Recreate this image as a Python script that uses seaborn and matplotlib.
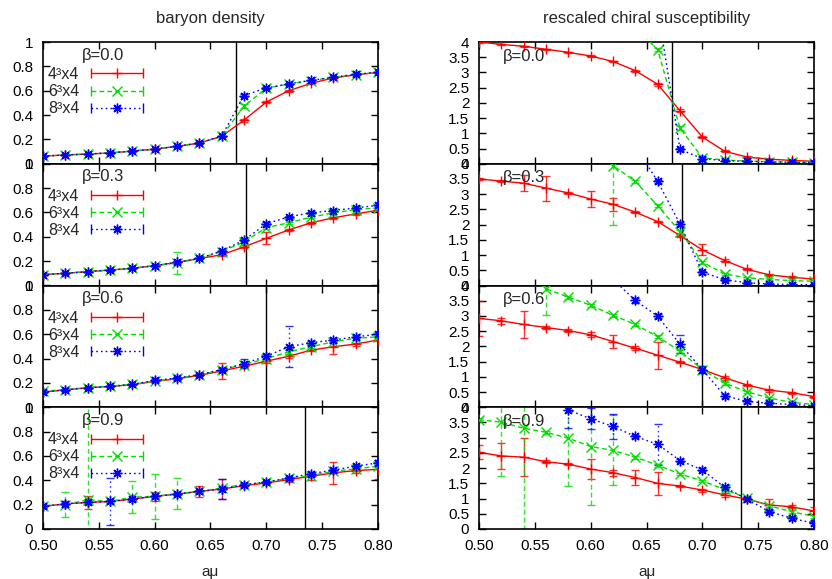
import numpy as np
import pandas as pd
import matplotlib
matplotlib.use("Agg")
import matplotlib.pyplot as plt
import seaborn as sns
from matplotlib.lines import Line2D
from matplotlib.legend_handler import HandlerLine2D, HandlerTuple
from matplotlib.ticker import FuncFormatter, MultipleLocator

# ---------------- data ----------------
amu = [0.50, 0.52, 0.54, 0.56, 0.58, 0.60, 0.62, 0.64,
       0.66, 0.68, 0.70, 0.72, 0.74, 0.76, 0.78, 0.80]
betas = ["0.0", "0.3", "0.6", "0.9"]
crit_amu = [0.673, 0.682, 0.700, 0.735]
volumes = ["4\u00b3x4", "6\u00b3x4", "8\u00b3x4"]

# baryon density, beta = 0.0
bd0_4 = [0.063, 0.072, 0.080, 0.088, 0.105, 0.120, 0.143, 0.170, 0.226, 0.358, 0.507, 0.600, 0.660, 0.705, 0.730, 0.750]
bd0_6 = [0.063, 0.072, 0.080, 0.088, 0.105, 0.120, 0.143, 0.170, 0.226, 0.474, 0.620, 0.655, 0.683, 0.710, 0.733, 0.750]
bd0_8 = [0.063, 0.072, 0.080, 0.090, 0.103, 0.120, 0.143, 0.170, 0.226, 0.560, 0.623, 0.655, 0.686, 0.710, 0.735, 0.752]
bd0_4e = [0.004, 0.004, 0.004, 0.004, 0.004, 0.004, 0.004, 0.005, 0.006, 0.012, 0.010, 0.008, 0.006, 0.005, 0.005, 0.005]
bd0_6e = [0.004, 0.004, 0.004, 0.004, 0.004, 0.004, 0.004, 0.005, 0.006, 0.015, 0.008, 0.006, 0.005, 0.005, 0.005, 0.005]
bd0_8e = [0.004, 0.004, 0.004, 0.004, 0.004, 0.004, 0.004, 0.005, 0.006, 0.015, 0.008, 0.006, 0.005, 0.005, 0.005, 0.005]
# baryon density, beta = 0.3
bd3_4 = [0.090, 0.100, 0.114, 0.127, 0.141, 0.163, 0.190, 0.222, 0.252, 0.317, 0.388, 0.456, 0.515, 0.556, 0.588, 0.618]
bd3_6 = [0.090, 0.100, 0.114, 0.127, 0.141, 0.163, 0.185, 0.222, 0.279, 0.358, 0.475, 0.515, 0.561, 0.597, 0.624, 0.637]
bd3_8 = [0.090, 0.100, 0.114, 0.127, 0.141, 0.163, 0.190, 0.222, 0.285, 0.372, 0.507, 0.564, 0.597, 0.616, 0.637, 0.659]
bd3_4e = [0.004, 0.004, 0.004, 0.004, 0.004, 0.005, 0.005, 0.006, 0.008, 0.012, 0.050, 0.012, 0.008, 0.006, 0.006, 0.006]
bd3_6e = [0.004, 0.004, 0.004, 0.004, 0.004, 0.005, 0.090, 0.006, 0.008, 0.010, 0.012, 0.008, 0.006, 0.006, 0.006, 0.006]
bd3_8e = [0.004, 0.004, 0.004, 0.004, 0.004, 0.005, 0.010, 0.006, 0.008, 0.010, 0.012, 0.008, 0.006, 0.006, 0.006, 0.006]
# baryon density, beta = 0.6
bd6_4 = [0.124, 0.143, 0.160, 0.171, 0.185, 0.212, 0.234, 0.262, 0.298, 0.337, 0.378, 0.419, 0.469, 0.497, 0.519, 0.552]
bd6_6 = [0.132, 0.145, 0.162, 0.174, 0.188, 0.215, 0.237, 0.265, 0.309, 0.350, 0.400, 0.455, 0.497, 0.538, 0.566, 0.579]
bd6_8 = [0.124, 0.143, 0.160, 0.171, 0.188, 0.220, 0.240, 0.268, 0.309, 0.359, 0.419, 0.497, 0.530, 0.552, 0.579, 0.599]
bd6_4e = [0.008, 0.006, 0.006, 0.006, 0.006, 0.008, 0.008, 0.008, 0.065, 0.012, 0.015, 0.015, 0.010, 0.058, 0.012, 0.010]
bd6_6e = [0.008, 0.006, 0.006, 0.006, 0.006, 0.008, 0.008, 0.008, 0.012, 0.012, 0.020, 0.015, 0.012, 0.012, 0.012, 0.010]
bd6_8e = [0.008, 0.006, 0.006, 0.006, 0.006, 0.008, 0.008, 0.008, 0.012, 0.040, 0.020, 0.170, 0.015, 0.012, 0.012, 0.012]
# baryon density, beta = 0.9
bd9_4 = [0.185, 0.207, 0.218, 0.226, 0.246, 0.268, 0.287, 0.309, 0.328, 0.356, 0.378, 0.406, 0.433, 0.461, 0.480, 0.490]
bd9_6 = [0.190, 0.200, 0.240, 0.226, 0.262, 0.268, 0.290, 0.309, 0.337, 0.364, 0.383, 0.419, 0.439, 0.474, 0.494, 0.516]
bd9_8 = [0.185, 0.207, 0.218, 0.226, 0.246, 0.268, 0.287, 0.309, 0.328, 0.364, 0.386, 0.419, 0.455, 0.483, 0.516, 0.543]
bd9_4e = [0.010, 0.025, 0.055, 0.010, 0.010, 0.040, 0.010, 0.045, 0.080, 0.010, 0.010, 0.020, 0.030, 0.090, 0.020, 0.080]
bd9_6e = [0.010, 0.100, 0.900, 0.010, 0.130, 0.185, 0.125, 0.010, 0.010, 0.010, 0.010, 0.010, 0.010, 0.010, 0.010, 0.010]
bd9_8e = [0.010, 0.010, 0.010, 0.190, 0.010, 0.010, 0.010, 0.010, 0.080, 0.010, 0.010, 0.010, 0.010, 0.010, 0.010, 0.020]

# rescaled chiral susceptibility, beta = 0.0
cs0_4 = [4.00, 3.92, 3.86, 3.76, 3.66, 3.54, 3.36, 3.06, 2.61, 1.74, 0.88, 0.41, 0.22, 0.15, 0.11, 0.08]
cs0_6 = [9.00, 8.60, 8.20, 7.70, 7.10, 6.40, 5.50, 4.46, 3.75, 1.17, 0.20, 0.12, 0.09, 0.07, 0.05, 0.04]
cs0_8 = [12.0, 11.6, 11.1, 10.5, 9.80, 8.90, 7.80, 6.50, 5.10, 0.47, 0.17, 0.10, 0.08, 0.06, 0.05, 0.04]
cs0_4e = [0.02, 0.02, 0.02, 0.02, 0.02, 0.02, 0.02, 0.03, 0.04, 0.05, 0.04, 0.03, 0.02, 0.02, 0.02, 0.02]
cs0_6e = [0.05, 0.05, 0.05, 0.05, 0.05, 0.05, 0.05, 0.05, 0.06, 0.06, 0.04, 0.02, 0.02, 0.02, 0.02, 0.02]
cs0_8e = [0.05, 0.05, 0.05, 0.05, 0.05, 0.05, 0.05, 0.05, 0.06, 0.05, 0.04, 0.02, 0.02, 0.02, 0.02, 0.02]
# rescaled chiral susceptibility, beta = 0.3
cs3_4 = [3.50, 3.43, 3.36, 3.20, 3.04, 2.84, 2.67, 2.41, 2.10, 1.64, 1.17, 0.82, 0.53, 0.35, 0.27, 0.21]
cs3_6 = [9.00, 8.50, 8.00, 7.40, 6.80, 6.00, 3.94, 3.42, 2.62, 1.77, 0.77, 0.38, 0.25, 0.20, 0.16, 0.14]
cs3_8 = [12.0, 11.0, 10.0, 9.00, 8.00, 7.00, 6.00, 4.58, 3.42, 2.02, 0.44, 0.19, 0.09, 0.05, 0.03, 0.03]
cs3_4e = [0.02, 0.03, 0.27, 0.41, 0.03, 0.25, 0.21, 0.03, 0.03, 0.05, 0.18, 0.04, 0.03, 0.03, 0.03, 0.03]
cs3_6e = [0.05, 0.05, 0.05, 0.05, 0.05, 0.05, 1.94, 0.05, 0.05, 0.05, 0.05, 0.04, 0.03, 0.03, 0.03, 0.03]
cs3_8e = [0.05, 0.05, 0.05, 0.05, 0.05, 0.05, 0.05, 0.05, 0.05, 0.06, 0.05, 0.03, 0.03, 0.03, 0.03, 0.03]
# rescaled chiral susceptibility, beta = 0.6
cs6_4 = [2.92, 2.84, 2.72, 2.62, 2.52, 2.38, 2.16, 1.94, 1.71, 1.48, 1.24, 0.97, 0.73, 0.56, 0.48, 0.35]
cs6_6 = [7.00, 6.40, 5.50, 3.89, 3.62, 3.35, 3.02, 2.72, 2.32, 1.84, 1.24, 0.79, 0.51, 0.30, 0.16, 0.09]
cs6_8 = [9.00, 8.00, 7.00, 6.00, 5.00, 4.70, 4.20, 3.51, 2.99, 2.07, 1.24, 0.38, 0.19, 0.13, 0.09, 0.05]
cs6_4e = [0.57, 0.10, 0.44, 0.04, 0.04, 0.08, 0.20, 0.06, 0.45, 0.03, 0.03, 0.06, 0.04, 0.05, 0.03, 0.03]
cs6_6e = [0.05, 0.05, 0.05, 0.87, 0.05, 0.05, 0.05, 0.05, 0.05, 0.05, 0.10, 0.05, 0.04, 0.03, 0.03, 0.03]
cs6_8e = [0.05, 0.05, 0.05, 0.05, 0.05, 0.05, 0.05, 0.08, 0.06, 0.30, 0.10, 0.06, 0.04, 0.03, 0.03, 0.03]
# rescaled chiral susceptibility, beta = 0.9
cs9_4 = [2.52, 2.40, 2.36, 2.21, 2.13, 1.97, 1.85, 1.69, 1.50, 1.41, 1.28, 1.12, 0.98, 0.79, 0.73, 0.59]
cs9_6 = [3.59, 3.51, 3.31, 3.18, 2.98, 2.71, 2.58, 2.36, 2.10, 1.81, 1.58, 1.30, 1.01, 0.76, 0.57, 0.41]
cs9_8 = [6.00, 5.50, 5.00, 4.50, 3.91, 3.62, 3.37, 3.04, 2.78, 2.25, 1.94, 1.37, 0.98, 0.57, 0.35, 0.19]
cs9_4e = [0.23, 0.44, 0.63, 0.05, 0.04, 0.33, 0.10, 0.26, 0.38, 0.04, 0.05, 0.06, 0.04, 0.20, 0.05, 0.13]
cs9_6e = [0.05, 1.77, 3.60, 0.05, 1.57, 1.92, 1.15, 0.05, 0.05, 0.04, 0.04, 0.04, 0.04, 0.04, 0.04, 0.04]
cs9_8e = [0.05, 0.05, 0.05, 0.05, 0.60, 0.35, 0.40, 0.05, 0.67, 0.05, 0.05, 0.05, 0.05, 0.05, 0.05, 0.05]

baryon = [(bd0_4, bd0_6, bd0_8), (bd3_4, bd3_6, bd3_8), (bd6_4, bd6_6, bd6_8), (bd9_4, bd9_6, bd9_8)]
baryon_err = [(bd0_4e, bd0_6e, bd0_8e), (bd3_4e, bd3_6e, bd3_8e), (bd6_4e, bd6_6e, bd6_8e), (bd9_4e, bd9_6e, bd9_8e)]
chiral = [(cs0_4, cs0_6, cs0_8), (cs3_4, cs3_6, cs3_8), (cs6_4, cs6_6, cs6_8), (cs9_4, cs9_6, cs9_8)]
chiral_err = [(cs0_4e, cs0_6e, cs0_8e), (cs3_4e, cs3_6e, cs3_8e), (cs6_4e, cs6_6e, cs6_8e), (cs9_4e, cs9_6e, cs9_8e)]

# ---------------- style ----------------
sns.set_theme(style="ticks")
plt.rcParams["font.family"] = ["Liberation Sans", "DejaVu Sans"]
plt.rcParams["axes.linewidth"] = 1.2
plt.rcParams["axes.edgecolor"] = "black"

colors = ["#ff0000", "#00dd00", "#0000ff"]
lstyles = ["-", (0, (3.5, 2.2)), (0, (1.2, 2.2))]
markers = ["+", "x", (8, 2, 0)]

fig, axes = plt.subplots(4, 2, figsize=(8.32, 5.79), dpi=100,
                         gridspec_kw=dict(hspace=0, wspace=0.3015))
fig.subplots_adjust(left=43/832, right=814/832, bottom=1-529/579, top=1-42/579)

for col, (dataset, errset, ymax, ystep) in enumerate(
        [(baryon, baryon_err, 1.0, 0.2), (chiral, chiral_err, 4.0, 0.5)]):
    for row in range(4):
        ax = axes[row, col]
        ax.axvline(crit_amu[row], color="black", lw=1.0, zorder=1)
        for k in range(3):
            vals = dataset[row][k]
            errs = errset[row][k]
            df = pd.DataFrame({"amu": amu, "val": vals})
            sns.lineplot(data=df, x="amu", y="val", ax=ax, color=colors[k],
                         linestyle=lstyles[k], lw=1.0, marker=markers[k],
                         markersize=7, markeredgecolor=colors[k],
                         markeredgewidth=1.0, legend=False, zorder=3)
            eb = ax.errorbar(amu, vals, yerr=errs, fmt="none", ecolor=colors[k],
                             elinewidth=1.0, capsize=3, capthick=1.0, zorder=2,
                             alpha=0.8)
            eb[2][0].set_linestyle(lstyles[k])
        ax.set_xlim(0.5, 0.8)
        ax.set_ylim(0, ymax)
        ax.xaxis.set_major_locator(MultipleLocator(0.05))
        ax.yaxis.set_major_locator(MultipleLocator(ystep))
        ax.xaxis.set_major_formatter(FuncFormatter(lambda v, p: f"{v:.2f}"))
        ax.yaxis.set_major_formatter(FuncFormatter(lambda v, p: f"{v:g}"))
        ax.tick_params(direction="in", length=5, width=1, top=True, right=True,
                       labelsize=11, pad=7, colors="black")
        ax.set_ylabel("")
        if row < 3:
            ax.tick_params(labelbottom=False)
            ax.set_xlabel("")
        else:
            ax.set_xlabel("a\u03bc", fontsize=11, labelpad=9)
        for s in ax.spines.values():
            s.set_linewidth(1.2)
        if col == 0:
            ax.text(0.116, 0.893, f"\u03b2={betas[row]}", transform=ax.transAxes,
                    ha="left", va="center", fontsize=12)
            handles = []
            hmap = {}
            for k in range(3):
                cap = Line2D([], [], color=colors[k], ls=lstyles[k], lw=1.0,
                             marker="|", markersize=7, markeredgewidth=1.0)
                mk = Line2D([], [], color=colors[k], ls="none", marker=markers[k],
                            markersize=7, markeredgewidth=1.0)
                hmap[cap] = HandlerLine2D(numpoints=2, marker_pad=0)
                hmap[mk] = HandlerLine2D(numpoints=1)
                handles.append((cap, mk))
            hmap[tuple] = HandlerTuple(ndivide=1)
            ax.legend(handles, volumes, handler_map=hmap, loc="upper left",
                      bbox_to_anchor=(0.015, 0.794), markerfirst=False,
                      frameon=False, fontsize=11.5, handlelength=3.3,
                      handletextpad=0.7, labelspacing=0.13, borderpad=0,
                      borderaxespad=0)
        else:
            ax.text(0.072, 0.885, f"\u03b2={betas[row]}", transform=ax.transAxes,
                    ha="left", va="center", fontsize=12)

axes[0, 0].set_title("baryon density", fontsize=12, pad=14)
axes[0, 1].set_title("rescaled chiral susceptibility", fontsize=12, pad=14)

fig.savefig("out.png", dpi=100)
